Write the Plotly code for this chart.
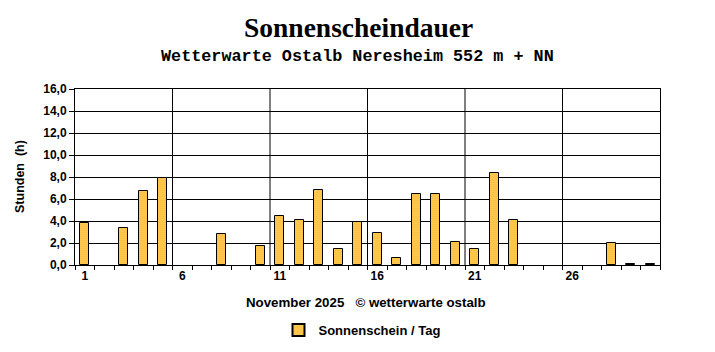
import plotly.graph_objects as go

days = list(range(1, 31))
sunshine = [3.8, 0.0, 3.4, 6.7, 7.9, 0.0, 0.0, 2.8, 0.0, 1.7,
            4.5, 4.1, 6.8, 1.5, 3.9, 2.9, 0.6, 6.5, 6.5, 2.1,
            1.5, 8.4, 4.1, 0.0, 0.0, 0.0, 0.0, 2.0, 0.1, 0.1]
x_tickvals = [1, 6, 11, 16, 21, 26]
x_ticktext = ["1", "6", "11", "16", "21", "26"]
group_bounds = [5.5, 10.5, 15.5, 20.5, 25.5]
y_ticks = [0, 2, 4, 6, 8, 10, 12, 14, 16]

W, H = 715, 352
L, R, T, B = 75, 55, 89, 87

plot_vals = [v if v > 0 else None for v in sunshine]

fig = go.Figure()
fig.add_trace(go.Bar(
    x=days, y=plot_vals, width=0.46, name="Sonnenschein / Tag",
    marker=dict(color="#FFC850", line=dict(color="black", width=1),
                pattern=dict(shape=".", fgcolor="#FF9900", bgcolor="#FFF090",
                             size=2, solidity=0.55, fillmode="replace")),
    hoverinfo="x+y",
))

tickfont = dict(family="Liberation Sans, Arial", size=12, color="black", weight="bold")

fig.update_layout(
    width=W, height=H, margin=dict(l=L, r=R, t=T, b=B, autoexpand=False),
    paper_bgcolor="white", plot_bgcolor="white",
    separators=",.",
    showlegend=True,
    legend=dict(orientation="h", x=(362 - L) / (W - L - R), xanchor="center", xref="paper",
                y=-(330 - (H - B)) / (H - T - B), yanchor="middle",
                font=dict(family="Liberation Sans, Arial", size=13, color="black", weight="bold"),
                itemsizing="constant"),
    bargap=0,
    xaxis=dict(range=[0.5, 30.5], tickmode="array", tickvals=x_tickvals, ticktext=x_ticktext,
               ticks="", showgrid=False, zeroline=False,
               showline=True, linecolor="black", linewidth=1, mirror=True,
               tickfont=tickfont,
               minor=dict(tickmode="linear", tick0=0.5, dtick=1, ticks="outside",
                          ticklen=4, tickcolor="black", showgrid=False)),
    yaxis=dict(range=[0, 16], tickmode="array", tickvals=y_ticks, tickformat=".1f",
               ticks="outside", ticklen=5, tickcolor="black",
               showgrid=True, gridcolor="black", gridwidth=1, zeroline=False,
               showline=True, linecolor="black", linewidth=1, mirror=True,
               tickfont=tickfont),
    yaxis2=dict(range=[0, 16], tickmode="array", tickvals=y_ticks, tickformat=".1f",
                overlaying="y", side="right", anchor="x",
                ticks="outside", ticklen=5, tickcolor="black",
                showgrid=False, zeroline=False, tickfont=tickfont),
)

for xb in group_bounds:
    fig.add_shape(type="line", xref="x", yref="paper", x0=xb, x1=xb, y0=0, y1=1,
                  line=dict(color="black", width=1), layer="below")

fig.add_annotation(text="<b>Sonnenscheindauer</b>", xref="paper", yref="paper",
                   x=(358 - L) / (W - L - R), xanchor="center", y=1 + (T - 27) / (H - T - B), yanchor="middle",
                   showarrow=False,
                   font=dict(family="Liberation Serif, Times New Roman", size=27.5, color="black"))
fig.add_annotation(text="<b>Wetterwarte Ostalb Neresheim 552 m + NN</b>", xref="paper", yref="paper",
                   x=(357 - L) / (W - L - R), xanchor="center", y=1 + (T - 56) / (H - T - B), yanchor="middle",
                   showarrow=False,
                   font=dict(family="Liberation Mono, Courier New", size=16.8, color="black"))
fig.add_annotation(text="<b>Stunden  (h)</b>", xref="paper", yref="paper",
                   x=-(L - 20) / (W - L - R), xanchor="center", y=0.5, yanchor="middle",
                   textangle=-90, showarrow=False,
                   font=dict(family="Liberation Sans, Arial", size=12.5, color="black"))
fig.add_annotation(text="<b>November 2025   © wetterwarte ostalb</b>", xref="paper", yref="paper",
                   x=(366 - L) / (W - L - R), xanchor="center", y=-(302 - (H - B)) / (H - T - B), yanchor="middle",
                   showarrow=False,
                   font=dict(family="Liberation Sans, Arial", size=13.3, color="black"))

fig.write_html("out.html")
